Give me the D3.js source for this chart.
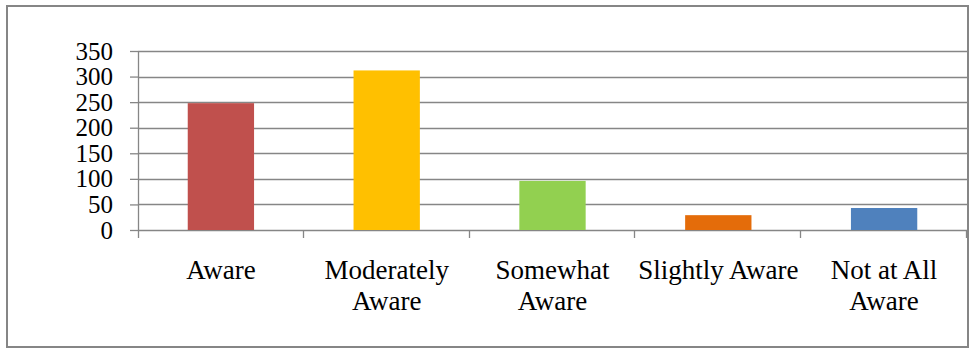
<!DOCTYPE html>
<html>
<head>
<meta charset="utf-8">
<script src="https://cdn.jsdelivr.net/npm/d3@7"></script>
<style>
  body { margin: 0; background: #fff; }
</style>
</head>
<body>
<svg id="chart"></svg>
<script>
  const categories = ['Aware', 'Moderately Aware', 'Somewhat Aware', 'Slightly Aware', 'Not at All Aware'];
  const labelLines = [['Aware'], ['Moderately', 'Aware'], ['Somewhat', 'Aware'], ['Slightly Aware'], ['Not at All', 'Aware']];
  const values = [248, 312, 96, 29, 43];
  const colors = ['#c0504d', '#ffc000', '#92d050', '#e46c0a', '#4f81bd'];
  const yTicks = [0, 50, 100, 150, 200, 250, 300, 350];

  const WIDTH = 975;
  const HEIGHT = 353;
  const MARGINS = {left: 138, right: 8, top: 51, bottom: 123};
  const GRID = '#868686';
  const FONT = 'Liberation Serif';

  const svg = d3.select('#chart')
    .attr('width', WIDTH)
    .attr('height', HEIGHT)
    .attr('font-family', FONT);

  // outer frame
  svg.append('rect')
    .attr('x', 7)
    .attr('y', 6)
    .attr('width', 961)
    .attr('height', 341)
    .attr('fill', 'none')
    .attr('stroke', GRID)
    .attr('stroke-width', 2);

  const x = d3.scaleBand()
    .domain(categories)
    .range([MARGINS.left, WIDTH - MARGINS.right])
    .paddingInner(0.6)
    .paddingOuter(0.3);

  const y = d3.scaleLinear()
    .domain([0, 350])
    .range([HEIGHT - MARGINS.bottom, MARGINS.top]);

  // y axis (ticks + labels)
  const yAxis = svg.append('g')
    .attr('transform', `translate(${MARGINS.left}, 0)`)
    .call(d3.axisLeft(y).tickValues(yTicks).tickSize(8).tickPadding(17))
    .attr('color', GRID)
    .attr('font-family', FONT)
    .attr('font-size', 25);
  yAxis.select('.domain').remove();
  yAxis.selectAll('line').attr('stroke-width', 1.3);
  yAxis.selectAll('text').attr('fill', '#000');

  // gridlines
  svg.append('g')
    .selectAll('line')
    .data(yTicks)
    .enter()
    .append('line')
    .attr('x1', MARGINS.left)
    .attr('x2', WIDTH - MARGINS.right)
    .attr('y1', d => Math.round(y(d)) + 0.5)
    .attr('y2', d => Math.round(y(d)) + 0.5)
    .attr('stroke', GRID)
    .attr('stroke-width', 1.3);

  svg.append('line')
    .attr('x1', MARGINS.left + 0.5)
    .attr('x2', MARGINS.left + 0.5)
    .attr('y1', y(350))
    .attr('y2', y(0) + 8)
    .attr('stroke', GRID)
    .attr('stroke-width', 1.3);

  // category ticks between bands
  const step = x.step();
  const boundaries = d3.range(1, categories.length + 1).map(i => MARGINS.left + i * step);
  svg.append('g')
    .selectAll('line')
    .data(boundaries)
    .enter()
    .append('line')
    .attr('x1', d => Math.round(d) - 0.5)
    .attr('x2', d => Math.round(d) - 0.5)
    .attr('y1', y(0))
    .attr('y2', y(0) + 8)
    .attr('stroke', GRID)
    .attr('stroke-width', 1.3);

  // bars
  svg.append('g')
    .selectAll('.bar')
    .data(values)
    .enter()
    .append('rect')
    .classed('bar', true)
    .attr('x', (d, i) => x(categories[i]))
    .attr('y', d => y(d))
    .attr('width', x.bandwidth())
    .attr('height', d => y(0) - y(d))
    .attr('fill', (d, i) => colors[i]);

  // category labels
  const labels = svg.append('g')
    .selectAll('.lable')
    .data(categories)
    .enter()
    .append('text')
    .classed('lable', true)
    .attr('text-anchor', 'middle')
    .attr('font-family', FONT)
    .attr('font-size', 27)
    .attr('fill', '#000')
    .attr('x', d => x(d) + x.bandwidth() / 2)
    .attr('y', 279);

  labels.selectAll('tspan')
    .data((d, i) => labelLines[i])
    .enter()
    .append('tspan')
    .attr('x', function() { return this.parentNode.getAttribute('x'); })
    .attr('dy', (d, i) => i === 0 ? 0 : 31)
    .text(d => d);
</script>
</body>
</html>
